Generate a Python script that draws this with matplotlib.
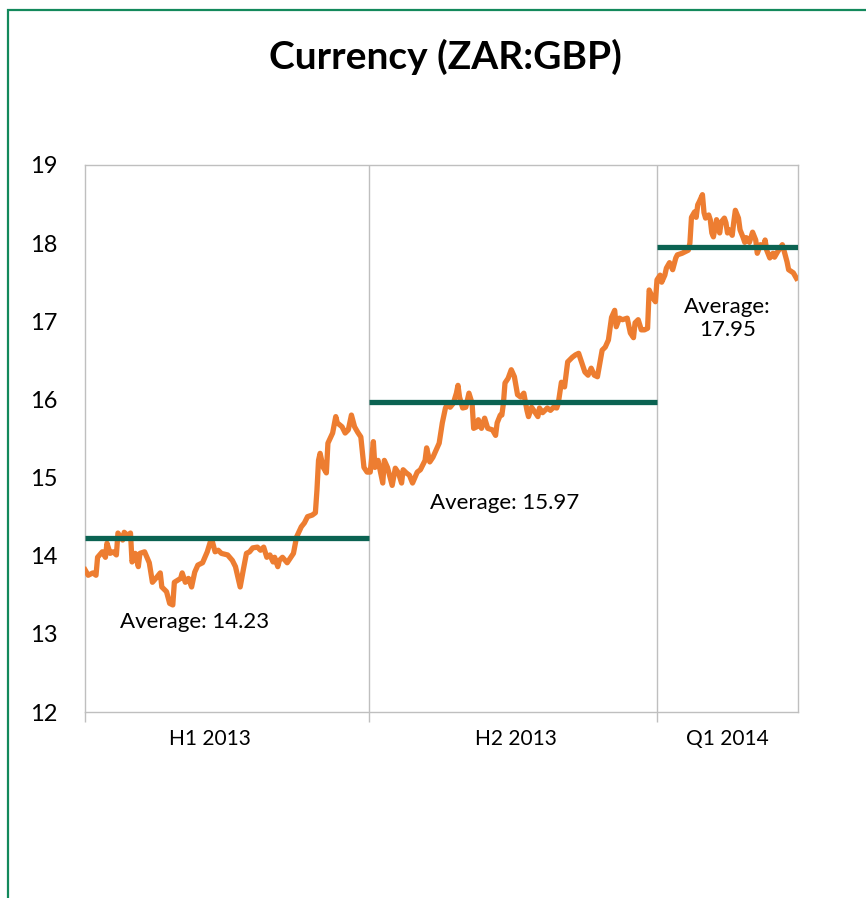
import matplotlib.pyplot as plt
from matplotlib.patches import Rectangle

# daily ZAR:GBP rate, x = days since 1 Jan 2013
h1_days = [0, 2, 5, 7, 8, 11, 13, 14, 16, 18, 20, 21, 24, 25, 27, 29, 30, 32, 34, 35,
           38, 41, 43, 46, 48, 49, 52, 54, 56, 57, 61, 62, 64, 66, 68, 70, 72, 75, 78, 80,
           81, 83, 85, 87, 91, 94, 96, 98, 99, 101, 103, 105, 107, 110, 112, 114, 116, 118, 120, 121,
           123, 124, 126, 129, 131, 133, 135, 138, 140, 142, 145, 147, 148, 149, 150, 152, 154, 155, 158, 160,
           161, 164, 166, 168, 170, 172, 174, 176, 178, 180]
h1_rate = [13.82, 13.75, 13.78, 13.75, 13.98, 14.05, 13.98, 14.16, 14.03, 14.05, 14.01, 14.29, 14.20, 14.30, 14.26, 14.29, 13.92, 14.03, 13.86, 14.03,
           14.05, 13.91, 13.66, 13.73, 13.78, 13.60, 13.54, 13.39, 13.37, 13.66, 13.71, 13.78, 13.66, 13.71, 13.60, 13.79, 13.88, 13.91, 14.05, 14.18,
           14.20, 14.05, 14.07, 14.03, 14.01, 13.94, 13.86, 13.69, 13.60, 13.82, 14.03, 14.05, 14.10, 14.11, 14.07, 14.11, 13.98, 14.01, 13.92, 13.98,
           13.86, 13.94, 13.98, 13.91, 13.97, 14.03, 14.24, 14.37, 14.42, 14.50, 14.52, 14.55, 14.84, 15.22, 15.31, 15.13, 15.06, 15.44, 15.57, 15.78,
           15.70, 15.65, 15.57, 15.61, 15.80, 15.65, 15.58, 15.52, 15.13, 15.07]

h2_days = [182, 184, 185, 187, 190, 191, 193, 196, 198, 200, 202, 203, 205, 207, 209, 212, 214, 217, 218, 220,
           222, 224, 226, 228, 230, 231, 233, 235, 237, 238, 239, 241, 243, 245, 247, 248, 250, 251, 253, 255,
           257, 260, 262, 263, 265, 266, 267, 268, 270, 272, 274, 276, 278, 280, 282, 283, 285, 287, 289, 290,
           292, 295, 297, 299, 301, 302, 304, 306, 308, 311, 313, 315, 317, 319, 321, 323, 325, 327, 330, 332,
           334, 336, 338, 339, 341, 343, 346, 348, 350, 351, 353, 355, 357, 359, 360, 362, 364]
h2_rate = [15.07, 15.46, 15.13, 15.22, 14.93, 15.22, 15.13, 14.90, 15.12, 15.06, 14.93, 15.10, 15.06, 15.03, 14.93, 15.07, 15.10, 15.22, 15.38, 15.20,
           15.26, 15.35, 15.44, 15.70, 15.89, 15.93, 15.90, 15.95, 16.08, 16.18, 16.03, 15.89, 15.90, 16.08, 15.95, 15.63, 15.65, 15.74, 15.63, 15.76,
           15.63, 15.61, 15.54, 15.70, 15.80, 15.80, 15.95, 16.21, 16.27, 16.38, 16.29, 16.06, 16.03, 16.08, 15.86, 15.78, 15.90, 15.84, 15.78, 15.89,
           15.83, 15.89, 15.86, 15.90, 15.89, 15.95, 16.22, 16.16, 16.48, 16.54, 16.57, 16.59, 16.47, 16.35, 16.31, 16.40, 16.31, 16.29, 16.63, 16.67,
           16.76, 17.05, 17.14, 16.93, 17.04, 17.02, 17.04, 16.85, 16.79, 16.98, 17.02, 16.89, 16.89, 16.91, 17.40, 17.31, 17.25]

q1_days = [365, 367, 368, 370, 371, 373, 375, 377, 378, 381, 383, 385, 386, 387, 389, 390, 391, 392, 394, 395,
           396, 398, 399, 400, 401, 402, 403, 405, 406, 408, 409, 410, 411, 413, 414, 415, 417, 418, 420, 421,
           422, 424, 426, 428, 429, 431, 433, 434, 435, 437, 439, 440, 442, 445, 446, 448, 449, 452, 454]
q1_rate = [17.53, 17.59, 17.50, 17.59, 17.68, 17.75, 17.66, 17.81, 17.85, 17.87, 17.89, 17.91, 18.00, 18.33, 18.40, 18.33, 18.49, 18.53, 18.62, 18.39,
           18.32, 18.36, 18.30, 18.13, 18.08, 18.19, 18.30, 18.13, 18.27, 18.32, 18.26, 18.13, 18.17, 18.10, 18.27, 18.42, 18.32, 18.17, 18.07, 18.01,
           18.07, 18.01, 18.14, 18.04, 17.87, 17.98, 17.95, 18.04, 17.91, 17.81, 17.87, 17.82, 17.89, 17.98, 17.91, 17.76, 17.66, 17.62, 17.55]

periods = ['H1 2013', 'H2 2013', 'Q1 2014']
period_edges = [0, 181, 365, 455]
averages = [14.23, 15.97, 17.95]

orange = '#ED7D31'
teal = '#0B6352'
grey = '#BFBFBF'
font = 'Lato'

fig = plt.figure(figsize=(8.66, 8.98), dpi=100)
ax = fig.add_axes([0.0982, 0.2071, 0.8233, 0.6092])

days = h1_days + h2_days + q1_days
rate = h1_rate + h2_rate + q1_rate
ax.plot(days, rate, color=orange, lw=3.8, solid_joinstyle='round', zorder=3)

for i in range(3):
    ax.plot([period_edges[i], period_edges[i + 1]], [averages[i], averages[i]],
            color=teal, lw=3.8, solid_capstyle='butt', zorder=4)

# period separators
for d in period_edges[1:3]:
    ax.axvline(d, color=grey, lw=1, zorder=1)

ax.text(70, 13.15, 'Average: %.2f' % averages[0], ha='center', va='center', fontsize=16, family=font)
ax.text(268, 14.67, 'Average: %.2f' % averages[1], ha='center', va='center', fontsize=16, family=font)
ax.text(410, 17.04, 'Average:\n%.2f' % averages[2], ha='center', va='center', fontsize=16,
        family=font, linespacing=1.2)

ax.set_xlim(0, 455)
ax.set_ylim(12, 19)
ax.set_yticks(range(12, 20))
ax.set_xticks(period_edges[:3])
ax.set_xticklabels([])
ax.set_xticks([80, 275, 410], minor=True)
ax.set_xticklabels(periods, minor=True, fontsize=15, family=font)
ax.tick_params(axis='x', which='major', length=7, color=grey, width=1)
ax.tick_params(axis='x', which='minor', length=0, pad=12)
ax.tick_params(axis='y', length=0, pad=20, labelsize=17)
for lab in ax.get_yticklabels():
    lab.set_family(font)

for s in ax.spines.values():
    s.set_color(grey)
    s.set_linewidth(1)

fig.text(0.514, 0.937, 'Currency (ZAR:GBP)', ha='center', va='center',
         fontsize=28, fontweight='bold', family=font)

# green chart frame
fig.patches.append(Rectangle((8 / 866, -0.1), 1.2, 1 - 10 / 898 + 0.1, transform=fig.transFigure,
                             fill=False, edgecolor='#13895C', lw=1.6))

plt.savefig('out.png', dpi=100)
